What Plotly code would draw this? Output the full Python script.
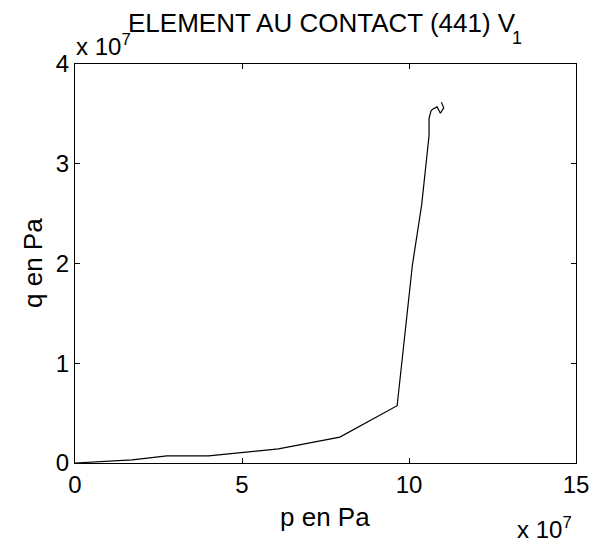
import plotly.graph_objects as go

# p and q values (in units of 1e7 Pa)
p_vals = [0, 1.71, 2.75, 4.00, 6.09, 7.93, 9.645, 10.10, 10.38, 10.60, 10.60, 10.66, 10.72, 10.84, 10.94, 11.04, 10.97]
q_vals = [0, 0.032, 0.072, 0.072, 0.142, 0.26, 0.574, 1.98, 2.59, 3.28, 3.456, 3.53, 3.55, 3.57, 3.506, 3.56, 3.616]
scale = 1e7

x_ticks = [0, 5, 10, 15]
y_ticks = [0, 1, 2, 3, 4]

p_pa = [v * scale for v in p_vals]
q_pa = [v * scale for v in q_vals]

font = "Liberation Sans, Arial, Helvetica, sans-serif"

fig = go.Figure()
fig.add_trace(go.Scatter(x=p_pa, y=q_pa, mode="lines",
                         line=dict(color="black", width=1.2), showlegend=False))

L, R, T, B = 75, 35, 64, 80
W, H = 611, 543
pw, ph = W - L - R, H - T - B


def px(x):
    return (x - L) / pw


def py(y):
    return (H - B - y) / ph


def note(text, x, y, size, xanchor="left", **kw):
    return dict(text=text, x=px(x), y=py(y), xref="paper", yref="paper",
                xanchor=xanchor, yanchor="middle", showarrow=False,
                font=dict(family=font, size=size, color="black"), **kw)


axis_common = dict(showgrid=False, zeroline=False, showline=True, linecolor="black",
                   linewidth=1, mirror="ticks", ticks="inside", ticklen=5,
                   tickcolor="black", tickfont=dict(family=font, size=24, color="black"))

fig.update_layout(
    width=W, height=H,
    margin=dict(l=L, r=R, t=T, b=B, autoexpand=False),
    paper_bgcolor="white", plot_bgcolor="white",
    font=dict(family=font, color="black"),
    xaxis=dict(range=[0, 15 * scale], tickvals=[v * scale for v in x_ticks],
               ticktext=[str(v) for v in x_ticks], **axis_common),
    yaxis=dict(range=[0, 4 * scale], tickvals=[v * scale for v in y_ticks],
               ticktext=[str(v) for v in y_ticks], **axis_common),
    annotations=[
        note("ELEMENT AU CONTACT (441) V", 322, 23, 26, xanchor="center"),
        note("1", 510, 38, 18),
        note("x 10<sup>7</sup>", 74, 45, 24),
        note("x 10<sup>7</sup>", 515, 528, 24),
        note("p en Pa", 325, 517, 26, xanchor="center"),
        note("q en Pa", 33, 263, 26, xanchor="center", textangle=-90),
    ],
)

fig.write_html("out.html", config={"displayModeBar": False},
               post_script="document.body.style.margin='0';")
